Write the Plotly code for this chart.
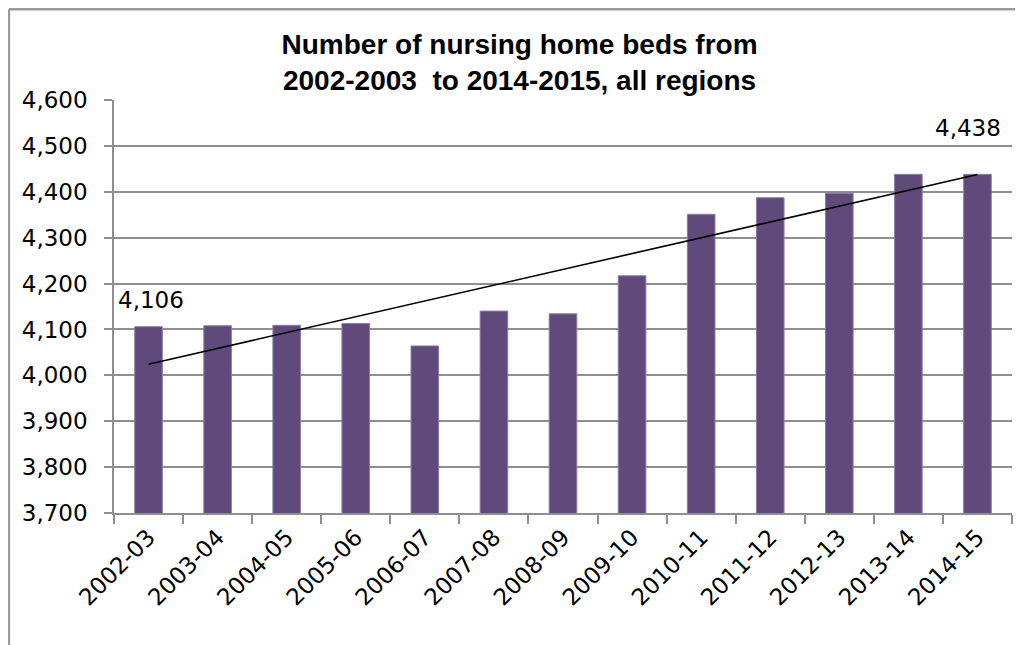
import numpy as np
import plotly.graph_objects as go

categories = ["2002-03", "2003-04", "2004-05", "2005-06", "2006-07", "2007-08",
              "2008-09", "2009-10", "2010-11", "2011-12", "2012-13", "2013-14", "2014-15"]
beds = [4106, 4108, 4109, 4113, 4064, 4140, 4134, 4217, 4351, 4387, 4397, 4438, 4438]
y_ticks = [3700, 3800, 3900, 4000, 4100, 4200, 4300, 4400, 4500, 4600]

title_text = "Number of nursing home beds from<br>2002-2003  to 2014-2015, all regions"

# linear trend line fitted to the series
xi = np.arange(len(beds))
slope, intercept = np.polyfit(xi, beds, 1)
trend = slope * xi + intercept

GRID = "#8f8f8f"
TICKFONT = dict(family="DejaVu Sans", size=23, color="#000000")

fig = go.Figure()
fig.add_trace(go.Bar(
    x=categories, y=beds,
    marker=dict(color="#604a7b", line=dict(color="#8e7caa", width=1)),
    showlegend=False, hoverinfo="x+y",
))
fig.add_trace(go.Scatter(
    x=categories, y=trend, mode="lines",
    line=dict(color="#000000", width=1.6),
    showlegend=False, hoverinfo="skip",
))

# data labels on first and last bars
fig.add_annotation(x=categories[0], y=beds[0], text=f"{beds[0]:,}", showarrow=False,
                   yanchor="bottom", yshift=12, xshift=2, font=TICKFONT)
fig.add_annotation(x=categories[-1], y=beds[-1], text=f"{beds[-1]:,}", showarrow=False,
                   yanchor="bottom", yshift=31, xshift=-9, font=TICKFONT)

# outer chart border (left and top edges visible)
fig.add_shape(type="line", xref="paper", yref="paper", x0=-0.1170, x1=1.03, y0=1.2200, y1=1.2200,
              line=dict(color="#9a9a9a", width=2.5))
fig.add_shape(type="line", xref="paper", yref="paper", x0=-0.1170, x1=-0.1170, y0=1.2200, y1=-0.35,
              line=dict(color="#9a9a9a", width=2.5))

fig.update_layout(
    width=1015, height=637,
    margin=dict(l=106, r=11, t=92, b=132),
    paper_bgcolor="#ffffff", plot_bgcolor="#ffffff",
    bargap=0.6,
    title=dict(text=title_text, x=0.504, xanchor="center", xref="container",
               y=0.928, yanchor="middle", yref="container",
               font=dict(family="Liberation Sans", size=28, color="#000000", weight="bold")),
    xaxis=dict(
        type="category", tickangle=-45, tickfont=TICKFONT,
        showline=True, linecolor=GRID, linewidth=1.5,
        ticks="outside", tickson="boundaries", ticklen=9, tickcolor=GRID, tickwidth=1.5,
        showgrid=False,
    ),
    yaxis=dict(
        range=[3700, 4600], tickvals=y_ticks,
        ticktext=[f"{v:,}" for v in y_ticks], tickfont=TICKFONT,
        showline=True, linecolor=GRID, linewidth=1.5,
        ticks="outside", ticklen=8, tickcolor=GRID, tickwidth=1.5,
        ticklabelstandoff=12,
        showgrid=True, gridcolor=GRID, gridwidth=1.5, zeroline=False,
    ),
)

fig.write_html("out.html")
